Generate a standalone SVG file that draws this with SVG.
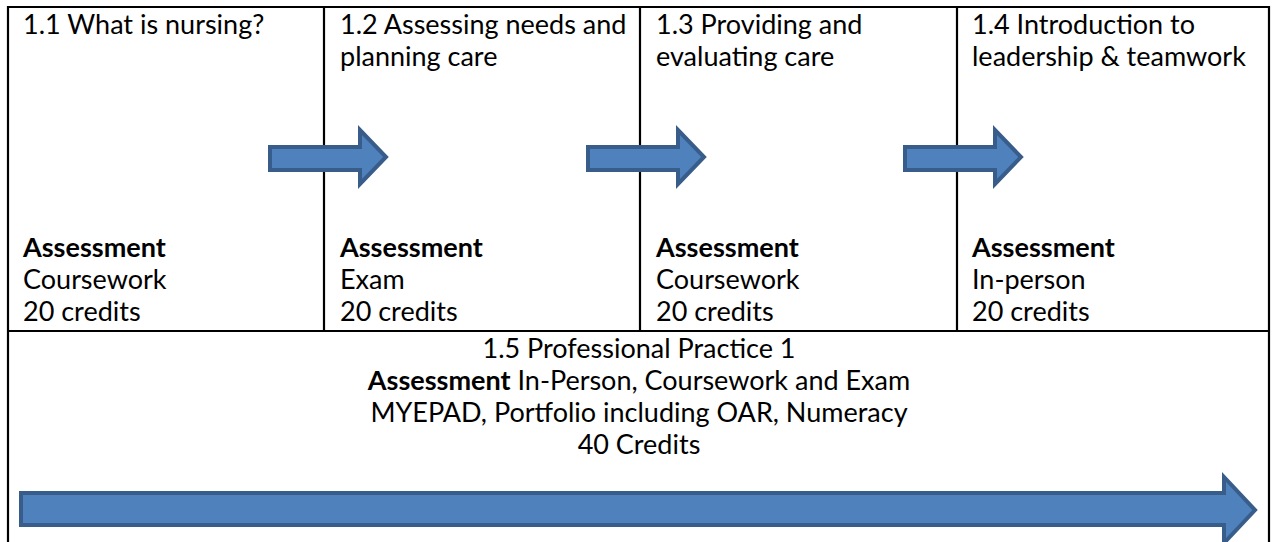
<svg xmlns="http://www.w3.org/2000/svg" width="1275" height="542" viewBox="0 0 1275 542">
<style>
.t{font-family:Lato,"Open Sans","Liberation Sans",sans-serif;font-size:27px;fill:#000}
.b{font-weight:bold}
.c{text-anchor:middle}
.grid{stroke:#000;stroke-width:2.2;fill:none}
.arr{fill:#4F81BD;stroke:#385D8A;stroke-width:4;stroke-linejoin:miter}
</style>
<rect width="1275" height="542" fill="#fff"/>
<g id="table" class="grid">
<line x1="8" y1="7" x2="1269" y2="7"/>
<line x1="8" y1="6" x2="8" y2="542"/>
<line x1="1269" y1="6" x2="1269" y2="542"/>
<line x1="324" y1="7" x2="324" y2="331"/>
<line x1="640" y1="7" x2="640" y2="331"/>
<line x1="957" y1="7" x2="957" y2="331"/>
<line x1="8" y1="331" x2="1269" y2="331"/>
</g>
<g id="node-1-1">
<text class="t" x="23" y="34">1.1 What is nursing?</text>
<text class="t b" x="23" y="257">Assessment</text>
<text class="t" x="23" y="289">Coursework</text>
<text class="t" x="23" y="321">20 credits</text>
</g>
<g id="node-1-2">
<text class="t" x="340" y="34">1.2 Assessing needs and</text>
<text class="t" x="340" y="66">planning care</text>
<text class="t b" x="340" y="257">Assessment</text>
<text class="t" x="340" y="289">Exam</text>
<text class="t" x="340" y="321">20 credits</text>
</g>
<g id="node-1-3">
<text class="t" x="656" y="34">1.3 Providing and</text>
<text class="t" x="656" y="66">evaluating care</text>
<text class="t b" x="656" y="257">Assessment</text>
<text class="t" x="656" y="289">Coursework</text>
<text class="t" x="656" y="321">20 credits</text>
</g>
<g id="node-1-4">
<text class="t" x="972" y="34">1.4 Introduction to</text>
<text class="t" x="972" y="66">leadership &amp; teamwork</text>
<text class="t b" x="972" y="257">Assessment</text>
<text class="t" x="972" y="289">In-person</text>
<text class="t" x="972" y="321">20 credits</text>
</g>
<g id="node-1-5">
<text class="t c" x="639" y="358">1.5 Professional Practice 1</text>
<text class="t c" x="639" y="390"><tspan class="b">Assessment</tspan> In-Person, Coursework and Exam</text>
<text class="t c" x="639" y="422">MYEPAD, Portfolio including OAR, Numeracy</text>
<text class="t c" x="639" y="454">40 Credits</text>
</g>
<g id="connectors">
<polygon class="arr" points="270,147 360,147 360,130 386,157 360,184 360,170 270,170"/>
<polygon class="arr" points="588,147 678,147 678,130 704,157 678,184 678,170 588,170"/>
<polygon class="arr" points="905,147 995,147 995,130 1021,157 995,184 995,170 905,170"/>
<polygon class="arr" points="21,493 1224,493 1224,477 1255,510 1224,543 1224,525 21,525"/>
</g>
</svg>
